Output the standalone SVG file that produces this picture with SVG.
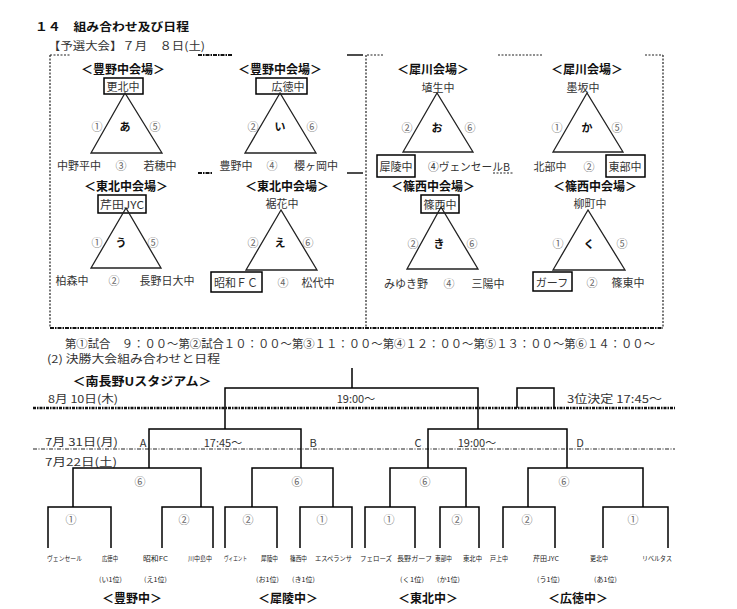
<svg xmlns="http://www.w3.org/2000/svg" width="737" height="609" viewBox="0 0 737 609">
<style>
text{font-family:"Noto Sans CJK JP","Noto Sans",sans-serif;fill:#333;font-size:11px;dominant-baseline:central}
.m{text-anchor:middle}
.b{font-weight:bold;fill:#111}
.h{font-weight:bold;fill:#111;font-size:12px;text-anchor:middle}
.c{fill:#666;text-anchor:middle;font-size:11px}
.s{font-size:6.5px;fill:#222}
.ln{stroke:#000;stroke-width:1.5;fill:none}
.box{stroke:#000;stroke-width:1.5;fill:none}
.tri{stroke:#222;stroke-width:1.3;fill:none}
.dot{stroke:#222;stroke-width:1.2;stroke-dasharray:2 1.5;fill:none}
.hv{stroke:#111;stroke-width:2;stroke-dasharray:4 1 1.5 1;fill:none}
.sd{stroke:#111;stroke-width:1.5;fill:none}
</style>
<rect width="737" height="609" fill="#fff"/>
<text x="35" y="26" class="b" font-size="12.5" textLength="154" lengthAdjust="spacingAndGlyphs">１４　組み合わせ及び日程</text>
<text x="48" y="45" textLength="157" lengthAdjust="spacingAndGlyphs">【予選大会】７月　８日(土)</text>

<g id="frame">
<line class="dot" x1="50" y1="55" x2="70" y2="55"/>
<line class="hv" x1="198" y1="55" x2="233" y2="55"/>
<line class="sd" x1="347" y1="55" x2="363" y2="55"/>
<line class="dot" x1="367" y1="55" x2="383" y2="55"/>
<line class="dot" x1="498" y1="55" x2="543" y2="55"/>
<line class="dot" x1="645" y1="55" x2="663" y2="55"/>
<line class="dot" x1="50" y1="55" x2="50" y2="328"/>
<line class="dot" x1="366" y1="55" x2="366" y2="328"/>
<line class="dot" x1="663" y1="55" x2="663" y2="328"/>
<line class="hv" x1="198" y1="173" x2="213" y2="173"/>
<line class="sd" x1="347" y1="173" x2="363" y2="173"/>
<line class="dot" x1="493" y1="173" x2="513" y2="173"/>
<line class="hv" x1="50" y1="328" x2="663" y2="328"/>
</g>

<g id="group-a">
<text x="123" y="68" class="h">＜豊野中会場＞</text>
<rect class="box" x="104" y="78" width="39" height="16"/>
<text x="123" y="86" class="m">更北中</text>
<polygon class="tri" points="125,93 91,153 162,153"/>
<text x="97" y="126" class="c">①</text><text x="125" y="126" class="b m">あ</text><text x="155" y="126" class="c">⑤</text>
<text x="79" y="165" class="m">中野平中</text><text x="121" y="165" class="c">③</text><text x="160" y="165" class="m">若穂中</text>
</g>

<g id="group-i">
<text x="280" y="68" class="h">＜豊野中会場＞</text>
<rect class="box" x="256" y="78" width="51" height="16"/>
<text x="288" y="86" class="m">広徳中</text>
<polygon class="tri" points="280,93 245,153 316,153"/>
<text x="253" y="126" class="c">②</text><text x="280" y="126" class="b m">い</text><text x="312" y="126" class="c">⑥</text>
<text x="236" y="165" class="m">豊野中</text><text x="272" y="165" class="c">④</text><text x="316" y="165" class="m">櫻ヶ岡中</text>
</g>

<g id="group-o">
<text x="433" y="68" class="h">＜犀川会場＞</text>
<text x="438" y="87" class="m">埴生中</text>
<polygon class="tri" points="437,93 403,152 473,152"/>
<text x="407" y="127" class="c">②</text><text x="437" y="127" class="b m">お</text><text x="470" y="127" class="c">⑥</text>
<rect class="box" x="377" y="155" width="38" height="22"/>
<text x="396" y="166" class="m">犀陵中</text>
<text x="428" y="166" textLength="82" lengthAdjust="spacingAndGlyphs">④ヴェンセールB</text>
</g>

<g id="group-ka">
<text x="587" y="68" class="h">＜犀川会場＞</text>
<text x="583" y="87" class="m">墨坂中</text>
<polygon class="tri" points="587,93 553,152 623,152"/>
<text x="557" y="127" class="c">①</text><text x="587" y="127" class="b m">か</text><text x="617" y="127" class="c">⑤</text>
<text x="550" y="166" class="m">北部中</text><text x="589" y="166" class="c">②</text>
<rect class="box" x="606" y="155" width="39" height="22"/>
<text x="625" y="166" class="m">東部中</text>
</g>

<g id="group-u">
<text x="126" y="185" class="h">＜東北中会場＞</text>
<rect class="box" x="98" y="195" width="48" height="18"/>
<text x="122" y="204" class="m" textLength="44" lengthAdjust="spacingAndGlyphs">芹田JYC</text>
<polygon class="tri" points="126,208 91,268 161,268"/>
<text x="97" y="242" class="c">①</text><text x="121" y="242" class="b m">う</text><text x="153" y="242" class="c">⑤</text>
<text x="72" y="280" class="m">柏森中</text><text x="114" y="280" class="c">②</text><text x="167" y="280" class="m">長野日大中</text>
</g>

<g id="group-e">
<text x="287" y="185" class="h">＜東北中会場＞</text>
<text x="282" y="203" class="m">裾花中</text>
<polygon class="tri" points="281,210 246,270 317,270"/>
<text x="253" y="242" class="c">②</text><text x="280" y="242" class="b m">え</text><text x="308" y="242" class="c">⑥</text>
<rect class="box" x="211" y="272" width="51" height="20"/>
<text x="236" y="282" class="m">昭和ＦＣ</text><text x="283" y="282" class="c">④</text><text x="318" y="282" class="m">松代中</text>
</g>

<g id="group-ki">
<text x="433" y="185" class="h">＜篠西中会場＞</text>
<rect class="box" x="421" y="195" width="38" height="18"/>
<text x="440" y="204" class="m">篠西中</text>
<polygon class="tri" points="441,207 407,269 478,269"/>
<text x="413" y="243" class="c">②</text><text x="439" y="243" class="b m">き</text><text x="472" y="243" class="c">⑥</text>
<text x="406" y="283" class="m">みゆき野</text><text x="449" y="283" class="c">④</text><text x="488" y="283" class="m">三陽中</text>
</g>

<g id="group-ku">
<text x="595" y="185" class="h">＜篠西中会場＞</text>
<text x="590" y="203" class="m">柳町中</text>
<polygon class="tri" points="588,210 553,270 625,270"/>
<text x="558" y="243" class="c">①</text><text x="589" y="243" class="b m">く</text><text x="622" y="243" class="c">⑤</text>
<rect class="box" x="533" y="272" width="39" height="19"/>
<text x="552" y="282" class="m">ガーフ</text><text x="592" y="282" class="c">②</text><text x="628" y="282" class="m">篠東中</text>
</g>

<text x="65" y="343" textLength="590" lengthAdjust="spacingAndGlyphs">第①試合　９：００～第②試合１０：００～第③１１：００～第④１２：００～第⑤１３：００～第⑥１４：００～</text>
<text x="47" y="358" textLength="173" lengthAdjust="spacingAndGlyphs">(2) 決勝大会組み合わせと日程</text>
<text x="142" y="380" class="h" textLength="139" lengthAdjust="spacingAndGlyphs">＜南長野Uスタジアム＞</text>

<g id="dates">
<text x="48" y="398" textLength="70" lengthAdjust="spacingAndGlyphs">8月 10日(木)</text>
<text x="356" y="398" class="m">19:00～</text>
<text x="567" y="398" textLength="95" lengthAdjust="spacingAndGlyphs">3位決定 17:45～</text>
<line x1="33" y1="408" x2="675" y2="408" stroke="#111" stroke-width="2.5" stroke-dasharray="3 1 1.5 1"/>
<text x="45" y="441" textLength="73" lengthAdjust="spacingAndGlyphs">7月 31日(月)</text>
<text x="143" y="442" class="m">A</text><text x="223" y="442" class="m">17:45～</text><text x="313" y="442" class="m">B</text>
<text x="418" y="442" class="m">C</text><text x="477" y="442" class="m">19:00～</text><text x="580" y="442" class="m">D</text>
<line x1="33" y1="449" x2="675" y2="449" stroke="#222" stroke-width="1.2" stroke-dasharray="4 1.5 1 1.5"/>
<text x="45" y="461" textLength="72" lengthAdjust="spacingAndGlyphs">7月22日(土)</text>
</g>

<g id="connectors">
<path class="ln" d="M352,368V388M225,429V388H478V429M517,408V388H554V408"/>
<path class="ln" d="M149,468V429H301V468M428,468V429H567V468"/>
<path class="ln" d="M73,507V468H201V507M252,507V468H333V507M390,507V468H466V507M528,507V468H643V507"/>
<path class="ln" d="M48,548V507H111V548M162,548V507H213V548M225,548V507H277V548M300,548V507H352V548M365,548V507H415V548M440,548V507H479V548M503,548V507H555V548M603,548V507H668V548"/>
</g>

<g id="round-labels">
<text x="140" y="481" class="c">⑥</text><text x="297" y="481" class="c">⑥</text><text x="425" y="481" class="c">⑥</text><text x="564" y="481" class="c">⑥</text>
<text x="71" y="519" class="c">①</text><text x="184" y="519" class="c">②</text><text x="248" y="519" class="c">②</text><text x="322" y="519" class="c">①</text>
<text x="389" y="519" class="c">①</text><text x="457" y="519" class="c">②</text><text x="527" y="519" class="c">②</text><text x="633" y="519" class="c">①</text>
</g>

<g id="teams">
<text x="47" y="558" class="s" textLength="35" lengthAdjust="spacingAndGlyphs">ヴェンセール</text>
<text x="102" y="558" class="s" textLength="16" lengthAdjust="spacingAndGlyphs">広徳中</text>
<text x="143" y="558" class="s" textLength="25" lengthAdjust="spacingAndGlyphs">昭和FC</text>
<text x="188" y="558" class="s" textLength="24" lengthAdjust="spacingAndGlyphs">川中島中</text>
<text x="224" y="558" class="s" textLength="23" lengthAdjust="spacingAndGlyphs">ヴィエント</text>
<text x="261" y="558" class="s" textLength="17" lengthAdjust="spacingAndGlyphs">犀陵中</text>
<text x="290" y="558" class="s" textLength="17" lengthAdjust="spacingAndGlyphs">篠西中</text>
<text x="315" y="558" class="s" textLength="37" lengthAdjust="spacingAndGlyphs">エスペランサ</text>
<text x="360" y="558" class="s" textLength="32" lengthAdjust="spacingAndGlyphs">フェローズ</text>
<text x="397" y="558" class="s" textLength="35" lengthAdjust="spacingAndGlyphs">長野ガーフ</text>
<text x="435" y="558" class="s" textLength="17" lengthAdjust="spacingAndGlyphs">東部中</text>
<text x="463" y="558" class="s" textLength="19" lengthAdjust="spacingAndGlyphs">東北中</text>
<text x="490" y="558" class="s" textLength="18" lengthAdjust="spacingAndGlyphs">戸上中</text>
<text x="533" y="558" class="s" textLength="26" lengthAdjust="spacingAndGlyphs">芹田JYC</text>
<text x="590" y="558" class="s" textLength="18" lengthAdjust="spacingAndGlyphs">更北中</text>
<text x="642" y="558" class="s" textLength="30" lengthAdjust="spacingAndGlyphs">リベルタス</text>
<text x="99" y="579" class="s" textLength="23" lengthAdjust="spacingAndGlyphs">(い1位)</text>
<text x="144" y="579" class="s" textLength="23" lengthAdjust="spacingAndGlyphs">(え1位)</text>
<text x="256" y="579" class="s" textLength="23" lengthAdjust="spacingAndGlyphs">(お1位)</text>
<text x="292" y="579" class="s" textLength="23" lengthAdjust="spacingAndGlyphs">(き1位)</text>
<text x="400" y="579" class="s" textLength="24" lengthAdjust="spacingAndGlyphs">(く1位)</text>
<text x="437" y="579" class="s" textLength="23" lengthAdjust="spacingAndGlyphs">(か1位)</text>
<text x="537" y="579" class="s" textLength="23" lengthAdjust="spacingAndGlyphs">(う1位)</text>
<text x="594" y="579" class="s" textLength="23" lengthAdjust="spacingAndGlyphs">(あ1位)</text>
</g>

<g id="venues">
<text x="132" y="597" class="h">＜豊野中＞</text>
<text x="288" y="597" class="h">＜犀陵中＞</text>
<text x="428" y="597" class="h">＜東北中＞</text>
<text x="578" y="597" class="h">＜広徳中＞</text>
</g>
</svg>
